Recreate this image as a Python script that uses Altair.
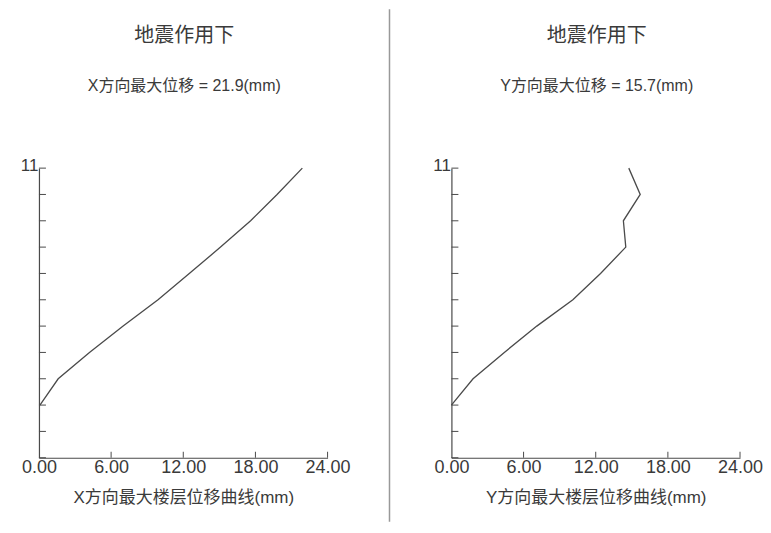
import altair as alt
import pandas as pd

# ---- data ----
floors = [2, 3, 4, 5, 6, 7, 8, 9, 10, 11]
x_disp = [0.08, 1.6, 4.2, 7.0, 9.9, 12.5, 15.1, 17.6, 19.8, 21.9]
y_disp = [0.0, 1.8, 4.4, 7.1, 10.1, 12.4, 14.5, 14.3, 15.7, 14.75]
x_ticks = [0, 6, 12, 18, 24]
floor_ticks = list(range(0, 12))
main_title = "地震作用下"
subtitles = ["X方向最大位移  = 21.9(mm)", "Y方向最大位移  = 15.7(mm)"]
axis_titles = ["X方向最大楼层位移曲线(mm)", "Y方向最大楼层位移曲线(mm)"]

FONT = "Liberation Sans, Noto Sans CJK SC, sans-serif"
LINE = "#4a4a4a"
TXT = "#3a3a3a"
W, H = 289, 290


def panel(disp, subtitle, xtitle, divider=False):
    df = pd.DataFrame({"floor": floors, "disp": disp})
    xs = alt.Scale(domain=[0, 24], nice=False, zero=False)
    ys = alt.Scale(domain=[0, 11], nice=False, zero=False)
    curve = alt.Chart(df).mark_line(color=LINE, strokeWidth=1.3).encode(
        x=alt.X("disp:Q", scale=xs, axis=alt.Axis(
            values=x_ticks, format=".2f", title=xtitle, ticks=False, grid=False,
            domainColor=LINE, domainWidth=1.2, labelFontSize=18, labelColor=TXT,
            labelPadding=1, labelFont=FONT, titleFont=FONT, titleFontSize=17,
            titlePadding=13, titleFontWeight="normal", titleColor=TXT,
            labelFlush=False)),
        y=alt.Y("floor:Q", scale=ys, axis=alt.Axis(
            values=[11], format="d", title=None, ticks=False, grid=False,
            domainColor=LINE, domainWidth=1.2, labelFontSize=17, labelColor=TXT,
            labelFont=FONT, labelPadding=1, labelFlush=False, labelOffset=-3)),
        order="floor:Q",
    )
    xt = alt.Chart(pd.DataFrame({"t": x_ticks[1:]})).mark_rule(
        color=LINE, strokeWidth=1).encode(
        x=alt.X("t:Q", scale=xs), y=alt.value(H), y2=alt.value(H - 6))
    yt = alt.Chart(pd.DataFrame({"f": floor_ticks})).mark_rule(
        color=LINE, strokeWidth=1).encode(
        y=alt.Y("f:Q", scale=ys), x=alt.value(0), x2=alt.value(7))
    ttl = alt.Chart(pd.DataFrame({"t": [main_title]})).mark_text(
        font=FONT, fontSize=20, color=TXT, baseline="middle", align="center").encode(
        text="t:N", x=alt.value(W / 2 + 1), y=alt.value(-132))
    sub = alt.Chart(pd.DataFrame({"t": [subtitle]})).mark_text(
        font=FONT, fontSize=16, color=TXT, baseline="middle", align="center").encode(
        text="t:N", x=alt.value(W / 2 + 1), y=alt.value(-82))
    layers = [curve, xt, yt, ttl, sub]
    if divider:
        dv = alt.Chart(pd.DataFrame({"d": [0]})).mark_rule(
            color="#999", strokeWidth=1.5).encode(
            x=alt.value(W + 62), y=alt.value(-159), y2=alt.value(H + 64))
        layers.append(dv)
    return alt.layer(*layers).properties(width=W, height=H)


left = panel(x_disp, subtitles[0], axis_titles[0], divider=True)
right = panel(y_disp, subtitles[1], axis_titles[1])

chart = alt.hconcat(left, right, spacing=124, bounds="flush").properties(
    padding={"left": 12, "top": 0, "right": 0, "bottom": 0},
    background="white",
).configure_view(stroke=None)

chart.save("out.html", embed_options={"renderer": "svg", "actions": False})
